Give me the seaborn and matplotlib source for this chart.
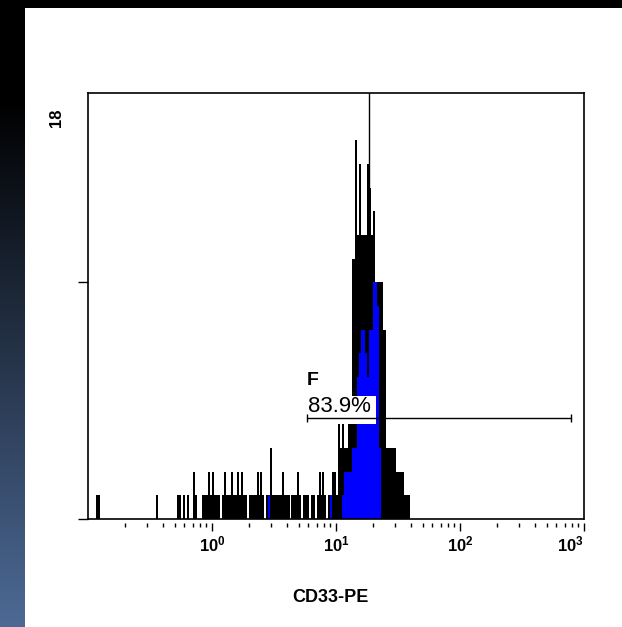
import numpy as np
import pandas as pd
import matplotlib
matplotlib.use("Agg")
import matplotlib.pyplot as plt
from matplotlib.patches import Rectangle
import seaborn as sns

# ---------------- data (channels on a 256-channel, 4-decade log axis) ----------------
N_CHANNELS = 256
LOG_MIN, LOG_MAX = -1, 3

black_sparse_channels = [4, 5, 35, 46, 47, 49, 51, 54, 55]
black_sparse_counts = [1, 1, 1, 1, 1, 1, 1, 2, 1]

black_run_start = 59
black_run_counts = [1, 1, 1, 2, 1, 2, 1, 1, 1, 0, 1, 2, 1, 1, 1, 2, 1, 1, 2, 1,
                    2, 1, 1, 0, 1, 1, 1, 1, 2, 1, 2, 1, 0, 1, 1, 3, 1, 1, 1, 1,
                    1, 2, 1, 1, 1, 0, 1, 1, 1, 2, 1, 0, 1, 1, 1, 0, 1, 1, 0, 1,
                    2, 1, 2, 1, 0, 1, 1, 2, 2, 1,
                    4, 3, 4, 3, 3, 4, 4, 11, 11, 16, 12, 15, 12, 12, 12, 15, 14, 12, 13,
                    10, 10, 10, 10, 8, 8, 3, 3, 3, 3, 3, 2, 2, 2, 2, 1, 1, 1]

blue_sparse_channels = [93, 125]
blue_sparse_counts = [1, 1]
blue_run_start = 131
blue_run_counts = [1, 2, 2, 2, 2, 3, 3, 3, 6, 7, 8, 8, 7, 6, 8, 8, 10, 10, 9, 3]

y_max = 18
y_ticks = [0, 10]
x_major = [1, 10, 100, 1000]
x_tick_labels = [r"$\mathbf{10^{0}}$", r"$\mathbf{10^{1}}$", r"$\mathbf{10^{2}}$", r"$\mathbf{10^{3}}$"]
x_label = "CD33-PE"
marker_x = 18.5
gate_label = "F"
gate_pct = "83.9%"
gate_x = [5.8, 785]
gate_y = 4.27

# ---------------- build tables ----------------
def channel_table(sparse_ch, sparse_ct, run_start, run_ct):
    ch = list(sparse_ch) + list(range(run_start, run_start + len(run_ct)))
    ct = list(sparse_ct) + list(run_ct)
    ch = np.array(ch, dtype=float)
    per = (LOG_MAX - LOG_MIN) / N_CHANNELS
    value = 10 ** (LOG_MIN + (ch + 0.5) * per)
    return pd.DataFrame({"value": value, "count": ct})

black_df = channel_table(black_sparse_channels, black_sparse_counts, black_run_start, black_run_counts)
blue_df = channel_table(blue_sparse_channels, blue_sparse_counts, blue_run_start, blue_run_counts)

# ---------------- style ----------------
sns.set_theme(style="white")
plt.rcParams["font.family"] = ["Liberation Sans", "DejaVu Sans"]
plt.rcParams["mathtext.fontset"] = "custom"
plt.rcParams["mathtext.rm"] = "Liberation Sans"
plt.rcParams["mathtext.bf"] = "Liberation Sans:bold"

W, H = 622, 627
fig = plt.figure(figsize=(W / 100, H / 100), dpi=100, facecolor="white")

# left gradient strip + top black bar
strip = fig.add_axes([0, 0, 24 / W, 1])
ys = np.arange(H)
t = np.clip((ys - 100) / (H - 100), 0, 1)
base = np.array([77, 106, 150]) / 255.0
grad = (t[:, None] * base[None, :])[:, None, :]
strip.imshow(grad, aspect="auto", interpolation="bilinear", extent=[0, 1, 0, 1])
strip.set_axis_off()
fig.patches.append(Rectangle((0, 1 - 8 / H), 1, 8 / H, transform=fig.transFigure,
                             facecolor="black", edgecolor="none", zorder=0))

ax = fig.add_axes([88 / W, 1 - 519 / H, 496 / W, 426 / H])
ax.set_facecolor("white")

ax.axvline(marker_x, color="black", lw=1.0, zorder=1)

sns.histplot(data=black_df, x="value", weights="count", bins=N_CHANNELS,
             binrange=(LOG_MIN, LOG_MAX), log_scale=True, element="bars",
             color="black", alpha=1, linewidth=0, ax=ax, zorder=2)
sns.histplot(data=blue_df, x="value", weights="count", bins=N_CHANNELS,
             binrange=(LOG_MIN, LOG_MAX), log_scale=True, element="bars",
             color="#0000ff", alpha=1, linewidth=0, ax=ax, zorder=3)

ax.set_xlim(10 ** LOG_MIN, 10 ** LOG_MAX)
ax.set_ylim(0, y_max)

# gate text box, line, labels
box_right = 21.0
ax.add_patch(Rectangle((gate_x[0], 4.0), box_right - gate_x[0], 1.2, facecolor="white",
                       edgecolor="none", zorder=4))
ax.plot(gate_x, [gate_y, gate_y], color="black", lw=1.0, zorder=5)
ax.plot(gate_x, [gate_y, gate_y], linestyle="none", marker="|", markersize=6,
        markeredgewidth=1.0, color="black", zorder=5)
ax.text(gate_x[0] * 1.03, gate_y + 0.02, gate_pct, fontsize=16, ha="left", va="bottom",
        color="black", zorder=6)
ax.text(gate_x[0], 5.5, gate_label, fontsize=14, fontweight="bold", ha="left",
        va="bottom", color="black", zorder=6)

# axes styling
for s in ax.spines.values():
    s.set_color("black")
    s.set_linewidth(1.2)
ax.spines["bottom"].set_position(("outward", 3))
ax.spines["bottom"].set_visible(False)
ax.axhline(0, color="black", lw=1.2, clip_on=False, zorder=7)

ax.set_xticks(x_major)
ax.set_xticklabels(x_tick_labels)
ax.xaxis.set_minor_locator(matplotlib.ticker.LogLocator(base=10, subs=np.arange(2, 10)))
ax.xaxis.set_minor_formatter(matplotlib.ticker.NullFormatter())
ax.tick_params(axis="x", which="major", direction="out", length=6, width=1.0,
               colors="black", labelsize=12, pad=2, bottom=True)
ax.tick_params(axis="x", which="minor", direction="out", length=3.2, width=1.0,
               colors="black", bottom=True)
labels = ax.get_xticklabels()
labels[-1].set_horizontalalignment("right")

ax.set_yticks(y_ticks)
ax.set_yticklabels([])
ax.tick_params(axis="y", which="major", direction="out", length=7.2, width=1.0,
               colors="black", left=True)
ax.set_xlabel("")
ax.set_ylabel("")

fig.text(56 / W, 1 - 118 / H, str(y_max), rotation=90, fontsize=12, fontweight="bold",
         ha="center", va="center", color="black")
fig.text(330 / W, 1 - 597 / H, x_label, fontsize=13, fontweight="bold",
         ha="center", va="center", color="black")

fig.savefig("out.png", dpi=100, facecolor="white")
